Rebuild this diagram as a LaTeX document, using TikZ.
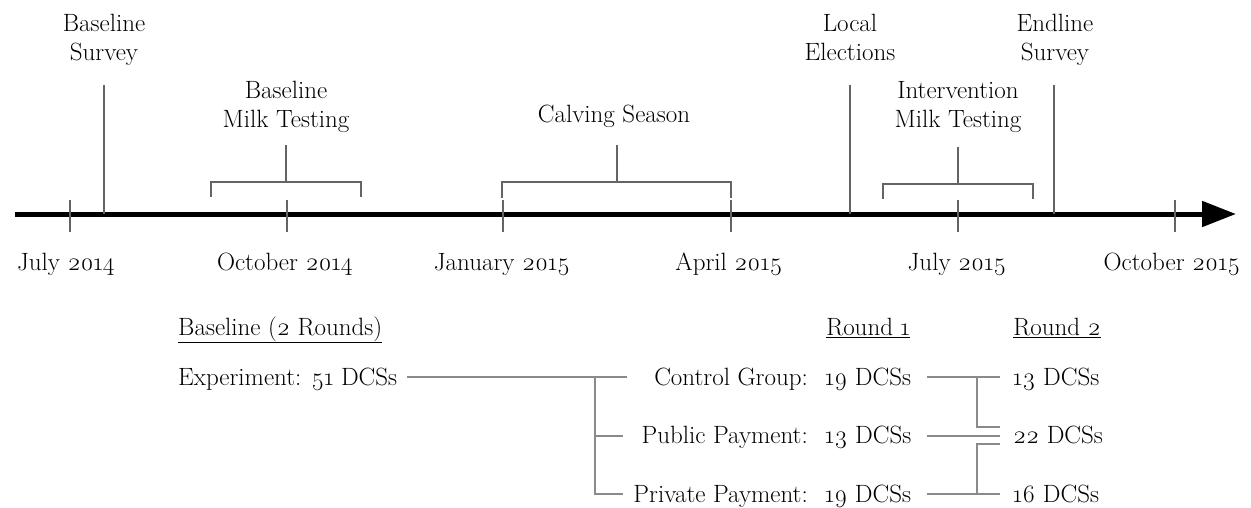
\documentclass[tikz,border=0pt]{standalone}
\usepackage{fontspec}
\setmainfont{Latin Modern Roman}[Numbers=OldStyle]
\usetikzlibrary{arrows.meta}
\definecolor{tlgray}{RGB}{100,100,100}
\definecolor{trgray}{RGB}{138,138,138}
\begin{document}
\begin{tikzpicture}[x=1pt,y=-1pt,
  lbl/.style={font=\fontsize{25}{29.5}\selectfont, inner sep=0pt, align=center},
  txt/.style={font=\fontsize{25}{29.5}\selectfont, inner sep=0pt},
  axisline/.style={line width=5pt, -{Triangle[length=34pt,width=25pt]}},
  markline/.style={draw=tlgray, line width=2.5pt},
  treeline/.style={draw=trgray, line width=2pt}]
\useasboundingbox (0,0) rectangle (1251,508);

% timeline
\coordinate (t0) at (15,214);
\coordinate (t1) at (1236,214);
\draw[axisline] (t0) -- (t1);

% ticks
\foreach \n/\x in {a/70,b/287,c/503,d/731,e/958,f/1175}{
  \coordinate (tk\n top) at (\x,200);
  \coordinate (tk\n bot) at (\x,232);
  \draw[markline] (tk\n top) -- (tk\n bot);
}

% month labels
\node[txt, anchor=base] (m1) at (66,270) {July 2014};
\node[txt, anchor=base] (m2) at (285,270) {October 2014};
\node[txt, anchor=base] (m3) at (502,270) {January 2015};
\node[txt, anchor=base] (m4) at (729,270) {April 2015};
\node[txt, anchor=base] (m5) at (957,270) {July 2015};
\node[txt, anchor=base] (m6) at (1172,270) {October 2015};

% event labels (base = baseline of last line)
\node[lbl, anchor=base] (bsurv) at (104,61) {Baseline\\Survey};
\node[lbl, anchor=base] (bmilk) at (286,128) {Baseline\\Milk Testing};
\node[txt, anchor=base] (calv) at (614,123) {Calving Season};
\node[lbl, anchor=base] (elect) at (850,61) {Local\\Elections};
\node[lbl, anchor=base] (imilk) at (958,128) {Intervention\\Milk Testing};
\node[lbl, anchor=base] (esurv) at (1055,61) {Endline\\Survey};

% single event lines
\coordinate (bs0) at (104,85); \coordinate (bs1) at (104,214);
\draw[markline] (bs0) -- (bs1);
\coordinate (le0) at (850,85); \coordinate (le1) at (850,214);
\draw[markline] (le0) -- (le1);
\coordinate (es0) at (1054,85); \coordinate (es1) at (1054,214);
\draw[markline] (es0) -- (es1);

% brackets
\coordinate (bm0) at (286,145); \coordinate (bm1) at (286,182);
\coordinate (bmL) at (211,197); \coordinate (bmR) at (361,197);
\draw[markline] (bmL) |- (bm1) -| (bmR);
\draw[markline] (bm0) -- (bm1);

\coordinate (cs0) at (617,145); \coordinate (cs1) at (617,182);
\coordinate (csL) at (502,198); \coordinate (csR) at (731,198);
\draw[markline] (csL) |- (cs1) -| (csR);
\draw[markline] (cs0) -- (cs1);

\coordinate (im0) at (958,147); \coordinate (im1) at (958,184);
\coordinate (imL) at (883,199); \coordinate (imR) at (1033,199);
\draw[markline] (imL) |- (im1) -| (imR);
\draw[markline] (im0) -- (im1);

% lower part
\node[txt, anchor=base west] (bhead) at (178,335) {\underline{Baseline (2 Rounds)}};
\node[txt, anchor=base] (r1) at (868,335) {\underline{Round 1}};
\node[txt, anchor=base] (r2) at (1057,335) {\underline{Round 2}};

\node[txt, anchor=base west] (exp) at (178,385) {Experiment: 51 DCSs};
\node[txt, anchor=base east] (ctrl) at (808,385) {Control Group:};
\node[txt, anchor=base east] (pub) at (808,443) {Public Payment:};
\node[txt, anchor=base east] (priv) at (808,502) {Private Payment:};
\node[txt, anchor=base west] (c1) at (825,385) {19 DCSs};
\node[txt, anchor=base west] (p1) at (825,443) {13 DCSs};
\node[txt, anchor=base west] (v1) at (825,502) {19 DCSs};
\node[txt, anchor=base west] (c2) at (1013,385) {13 DCSs};
\node[txt, anchor=base west] (p2) at (1013,443) {22 DCSs};
\node[txt, anchor=base west] (v2) at (1013,502) {16 DCSs};

% left tree
\coordinate (e0) at (407,377); \coordinate (e1) at (627,377);
\coordinate (jt) at (595,377); \coordinate (jm) at (595,436); \coordinate (jb) at (595,494);
\coordinate (em) at (623,436); \coordinate (eb) at (623,494);
\draw[treeline] (e0) -- (e1);
\draw[treeline] (jt) -- (jb) -- (eb);
\draw[treeline] (jm) -- (em);

% right tree
\coordinate (ra0) at (927,377); \coordinate (ra1) at (1000,377);
\coordinate (rb0) at (927,436); \coordinate (rb1) at (1000,436);
\coordinate (rc0) at (927,494); \coordinate (rc1) at (1000,494);
\coordinate (ka) at (977,377); \coordinate (kb) at (977,494);
\coordinate (sa) at (1000,427); \coordinate (sb) at (1000,444);
\draw[treeline] (ra0) -- (ra1);
\draw[treeline] (rb0) -- (rb1);
\draw[treeline] (rc0) -- (rc1);
\draw[treeline] (ka) |- (sa);
\draw[treeline] (kb) |- (sb);
\end{tikzpicture}
\end{document}
